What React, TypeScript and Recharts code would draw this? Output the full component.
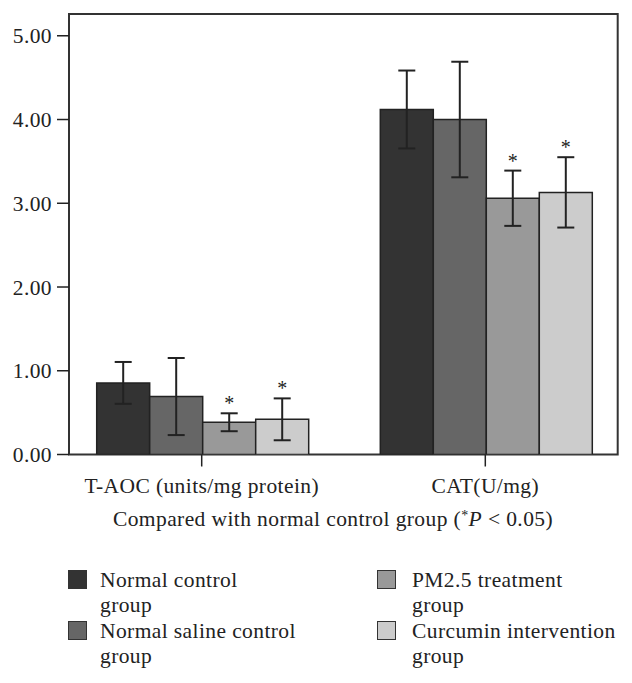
import React from 'react';
import { BarChart, Bar, XAxis, YAxis, ErrorBar, Legend, ReferenceArea } from 'recharts';

const categories = ['T-AOC (units/mg protein)', 'CAT(U/mg)'];
const seriesNames = [
  'Normal control group',
  'Normal saline control group',
  'PM2.5 treatment group',
  'Curcumin intervention group',
];
const legendLines = [
  ['Normal control', 'group'],
  ['Normal saline control', 'group'],
  ['PM2.5 treatment', 'group'],
  ['Curcumin intervention', 'group'],
];
const normalControl = [0.855, 4.12];
const normalControlErr = [0.25, 0.465];
const salineControl = [0.692, 4.0];
const salineControlErr = [0.46, 0.69];
const pm25Treatment = [0.385, 3.06];
const pm25TreatmentErr = [0.107, 0.33];
const curcumin = [0.42, 3.13];
const curcuminErr = [0.25, 0.42];
const normalControlSig = [false, false];
const salineControlSig = [false, false];
const pm25TreatmentSig = [true, true];
const curcuminSig = [true, true];
const yTicks = [0, 1, 2, 3, 4, 5];
const yMax = 5.26;
const caption = 'Compared with normal control group';

const colors = ['#333333', '#666666', '#999999', '#cccccc'];
const FONT = '"Liberation Serif", serif';
const INK = '#222222';
const TXT = 21.5;
const LS = 0.4;

const keys = ['s0', 's1', 's2', 's3'];
const values = [normalControl, salineControl, pm25Treatment, curcumin];
const errors = [normalControlErr, salineControlErr, pm25TreatmentErr, curcuminErr];
const sigs = [normalControlSig, salineControlSig, pm25TreatmentSig, curcuminSig];

const data = categories.map((name, i) => {
  const row: any = { name, frame: i };
  keys.forEach((k, s) => {
    row[k] = values[s][i];
    row[k + 'e'] = errors[s][i];
  });
  return row;
});

const makeStar = (s: number) => (props: any) => {
  const { x, y, width, height, index } = props;
  if (!sigs[s][index]) return null;
  const v = values[s][index];
  const e = errors[s][index];
  const errTop = y - (e * height) / v;
  return (
    <text
      x={x + width / 2}
      y={errTop - 3}
      textAnchor="middle"
      fontFamily={FONT}
      fontSize={20}
      fill={INK}
    >
      *
    </text>
  );
};

const renderLegend = () => {
  const pos = [
    { left: 68, top: 61 },
    { left: 68, top: 112 },
    { left: 377, top: 61 },
    { left: 377, top: 112 },
  ];
  return (
    <div
      style={{
        position: 'relative',
        width: 632,
        height: 176,
        fontFamily: FONT,
        fontSize: TXT,
        letterSpacing: LS,
        lineHeight: '25.5px',
        color: INK,
      }}
    >
      <div
        style={{
          position: 'absolute',
          left: 0,
          top: 0,
          width: 632,
          paddingLeft: 34,
          boxSizing: 'border-box',
          textAlign: 'center',
          whiteSpace: 'nowrap',
        }}
      >
        {caption} (
        <span style={{ fontSize: 14, position: 'relative', top: -6 }}>*</span>
        <i>P</i> &lt; 0.05)
      </div>
      {seriesNames.map((n, s) => (
        <div key={n} style={{ position: 'absolute', left: pos[s].left, top: pos[s].top }}>
          <div
            style={{
              position: 'absolute',
              left: 0,
              top: 2.5,
              width: 17,
              height: 17,
              background: colors[s],
              border: '1.5px solid #333',
            }}
          />
          <div style={{ position: 'absolute', left: s < 2 ? 32 : 35, top: 0, whiteSpace: 'nowrap' }}>
            {legendLines[s][0]}
            <br />
            {legendLines[s][1]}
          </div>
        </div>
      ))}
    </div>
  );
};

export default function App() {
  return (
    <div style={{ position: 'absolute', left: 0, top: 0, width: 632, height: 683, background: '#fff' }}>
      <BarChart
        width={632}
        height={683}
        data={data}
        margin={{ top: 14, right: 14.3, bottom: 178.5, left: 0 }}
        barGap={0}
        barCategoryGap={36.8}
      >
        <XAxis
          dataKey="name"
          padding={{ left: -9.1, right: -9.4 }}
          tickSize={12}
          tickMargin={11}
          height={50}
          axisLine={false}
          tickLine={{ stroke: INK, strokeWidth: 1.5 }}
          tick={{ fontFamily: FONT, fontSize: TXT, fill: INK, letterSpacing: LS }}
          interval={0}
        />
        <XAxis xAxisId="frame" type="number" dataKey="frame" domain={[0, 1]} hide />
        <YAxis
          domain={[0, yMax]}
          ticks={yTicks}
          width={69}
          tickSize={12}
          tickMargin={5}
          allowDataOverflow
          tickFormatter={(v: number) => v.toFixed(2)}
          axisLine={false}
          tickLine={{ stroke: INK, strokeWidth: 1.5 }}
          tick={{ fontFamily: FONT, fontSize: TXT, fill: INK, letterSpacing: LS }}
        />
        <ReferenceArea
          xAxisId="frame"
          x1={0}
          x2={1}
          y1={0}
          y2={yMax}
          fill="none"
          stroke="#333"
          strokeWidth={2}
          ifOverflow="visible"
        />
        <Legend
          layout="horizontal"
          verticalAlign="middle"
          align="center"
          content={renderLegend}
          wrapperStyle={{ position: 'absolute', left: 0, top: 506.5, width: 632, height: 176 }}
        />
        {keys.map((k, s) => (
          <Bar
            key={k}
            dataKey={k}
            name={seriesNames[s]}
            fill={colors[s]}
            stroke="#222"
            strokeWidth={1.5}
            isAnimationActive={false}
            label={makeStar(s)}
          >
            <ErrorBar dataKey={k + 'e'} width={8.5} stroke={INK} strokeWidth={2} direction="y" />
          </Bar>
        ))}
      </BarChart>
    </div>
  );
}
